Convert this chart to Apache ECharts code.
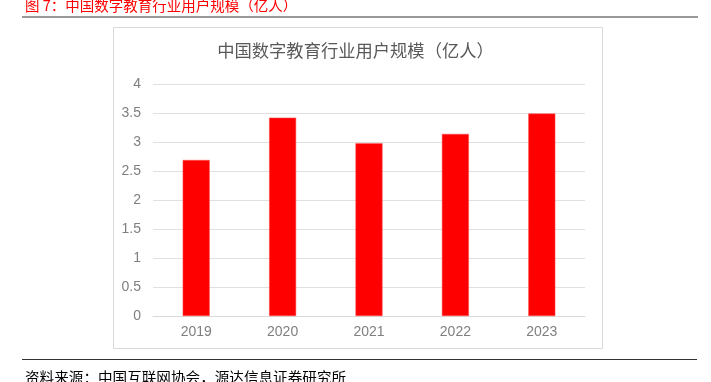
<!DOCTYPE html>
<html>
<head>
<meta charset="utf-8">
<style>
    html, body { margin: 0; padding: 0; background: #fff; }
    #main { width: 711px; height: 382px; }
</style>
<script src="https://cdn.jsdelivr.net/npm/echarts@6/dist/echarts.min.js"></script>
</head>
<body>
<div id="main"></div>
<script>
var years = ['2019', '2020', '2021', '2022', '2023'];
var users = [2.69, 3.42, 2.98, 3.14, 3.49]; // 亿人
var yTicks = [0, 0.5, 1, 1.5, 2, 2.5, 3, 3.5, 4];

var font = '"Noto Sans CJK SC", "Liberation Sans", sans-serif';
var myChart = echarts.init(document.getElementById('main'));
var option = {
    animation: false,
    title: [
        {
            text: '图 7：中国数字教育行业用户规模（亿人）',
            left: 25,
            top: -2,
            padding: 0,
            textStyle: { color: '#ff0000', fontSize: 14.5, fontWeight: 'normal', fontFamily: font }
        },
        {
            text: '中国数字教育行业用户规模（亿人）',
            left: 'center',
            top: 42,
            padding: 0,
            textStyle: { color: '#595959', fontSize: 17.3, fontWeight: 'normal', fontFamily: font }
        },
        {
            text: '资料来源：中国互联网协会，源达信息证券研究所',
            left: 25,
            top: 370,
            padding: 0,
            textStyle: { color: '#000', fontSize: 14.6, fontWeight: 'normal', fontFamily: font }
        }
    ],
    graphic: [
        {   // 外框
            type: 'rect',
            shape: { x: 113.5, y: 27.5, width: 489, height: 321 },
            style: { fill: 'none', stroke: '#d9d9d9', lineWidth: 1 },
            z: -1
        },
        {
            type: 'line',
            shape: { x1: 22, y1: 17, x2: 698, y2: 17 },
            style: { stroke: '#333', lineWidth: 1.2 }
        },
        {
            type: 'line',
            shape: { x1: 22, y1: 359.5, x2: 697, y2: 359.5 },
            style: { stroke: '#333', lineWidth: 1.2 }
        }
    ],
    grid: {
        left: 153,
        right: 126,
        top: 84,
        bottom: 66
    },
    xAxis: {
        type: 'category',
        data: years,
        axisTick: { show: false },
        axisLine: { show: true, lineStyle: { color: '#d9d9d9', width: 1 } },
        axisLabel: { color: '#7f7f7f', fontSize: 14, margin: 9, fontFamily: '"Liberation Sans", sans-serif' }
    },
    yAxis: {
        type: 'value',
        min: 0,
        max: 4,
        interval: 0.5,
        axisLine: { show: false },
        axisTick: { show: false },
        splitLine: { lineStyle: { color: '#e0e0e0', width: 1 } },
        axisLabel: {
            color: '#7f7f7f',
            fontSize: 14,
            margin: 12,
            fontFamily: '"Liberation Sans", sans-serif',
            formatter: function (v) { return yTicks.indexOf(v) >= 0 ? String(v) : ''; }
        }
    },
    series: [
        {
            name: '用户规模',
            type: 'bar',
            barWidth: 27,
            data: users,
            itemStyle: { color: '#ff0000', borderColor: '#ff5050', borderWidth: 0.5 }
        }
    ]
};
myChart.setOption(option);
</script>
</body>
</html>
